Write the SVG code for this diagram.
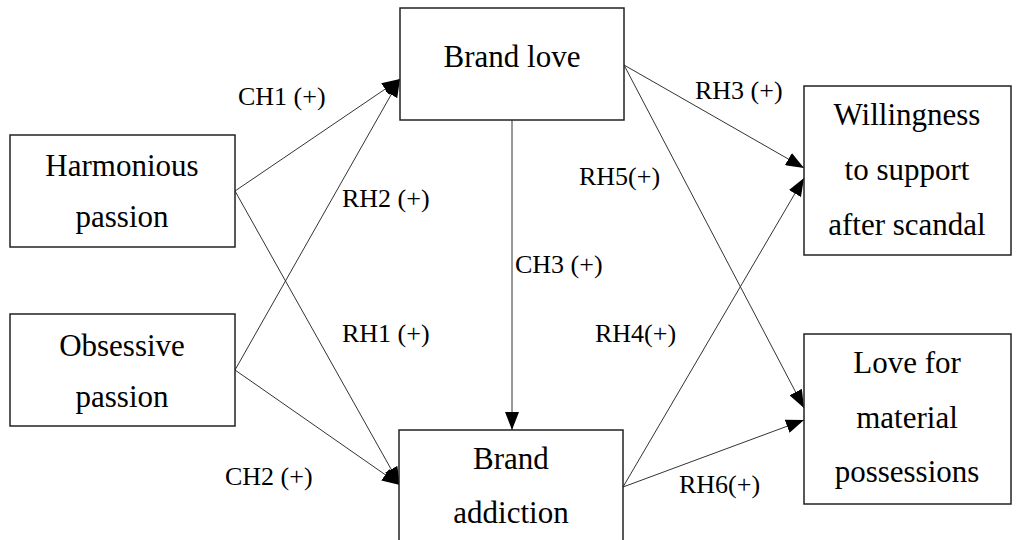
<svg xmlns="http://www.w3.org/2000/svg" width="1016" height="540" viewBox="0 0 1016 540">
<style>
.box{fill:#fff;stroke:#222;stroke-width:1.5}
.nt{font-size:31px;fill:#000;text-anchor:middle}
.lb{font-size:26px;fill:#000}
.cn{stroke:#333;stroke-width:1;fill:none;marker-end:url(#ah)}
</style>
<defs>
<marker id="ah" markerUnits="userSpaceOnUse" markerWidth="20" markerHeight="14" refX="18" refY="7" orient="auto">
<path d="M0,0 L18,7 L0,14 Z" fill="#000"/>
</marker>
</defs>
<rect width="1016" height="540" fill="#fff"/>
<g id="connectors">
<line class="cn" x1="235" y1="191" x2="400" y2="79"/>
<line class="cn" x1="235" y1="370" x2="400" y2="79"/>
<line class="cn" x1="235" y1="191" x2="400" y2="485"/>
<line class="cn" x1="235" y1="370" x2="400" y2="485"/>
<line class="cn" x1="512" y1="120" x2="512" y2="430"/>
<line class="cn" x1="624" y1="65" x2="804" y2="168"/>
<line class="cn" x1="624" y1="65" x2="804" y2="408"/>
<line class="cn" x1="623" y1="487" x2="804" y2="178"/>
<line class="cn" x1="623" y1="487" x2="804" y2="420"/>
</g>
<g font-family="Liberation Serif, Times New Roman, serif">
<g id="labels">
<text class="lb" x="238" y="105">CH1 (+)</text>
<text class="lb" x="342" y="207">RH2 (+)</text>
<text class="lb" x="342" y="342">RH1 (+)</text>
<text class="lb" x="225" y="485">CH2 (+)</text>
<text class="lb" x="515" y="273">CH3 (+)</text>
<text class="lb" x="695" y="99">RH3 (+)</text>
<text class="lb" x="579" y="185">RH5(+)</text>
<text class="lb" x="595" y="342">RH4(+)</text>
<text class="lb" x="679" y="493">RH6(+)</text>
</g>
<g id="harmonious">
<rect class="box" x="10" y="135" width="225" height="112"/>
<text class="nt" x="122" y="176">Harmonious</text>
<text class="nt" x="122" y="227">passion</text>
</g>
<g id="obsessive">
<rect class="box" x="10" y="314" width="225" height="112"/>
<text class="nt" x="122" y="356">Obsessive</text>
<text class="nt" x="122" y="407">passion</text>
</g>
<g id="brand-love">
<rect class="box" x="400" y="8" width="224" height="112"/>
<text class="nt" x="512" y="67">Brand love</text>
</g>
<g id="brand-addiction">
<rect class="box" x="399" y="430" width="224" height="120"/>
<text class="nt" x="511" y="469">Brand</text>
<text class="nt" x="511" y="523">addiction</text>
</g>
<g id="willingness">
<rect class="box" x="804" y="86" width="207" height="169"/>
<text class="nt" x="907" y="125">Willingness</text>
<text class="nt" x="907" y="180">to support</text>
<text class="nt" x="907" y="235">after scandal</text>
</g>
<g id="love-material">
<rect class="box" x="804" y="334" width="207" height="170"/>
<text class="nt" x="907" y="373">Love for</text>
<text class="nt" x="907" y="428">material</text>
<text class="nt" x="907" y="482">possessions</text>
</g>
</g>
</svg>
